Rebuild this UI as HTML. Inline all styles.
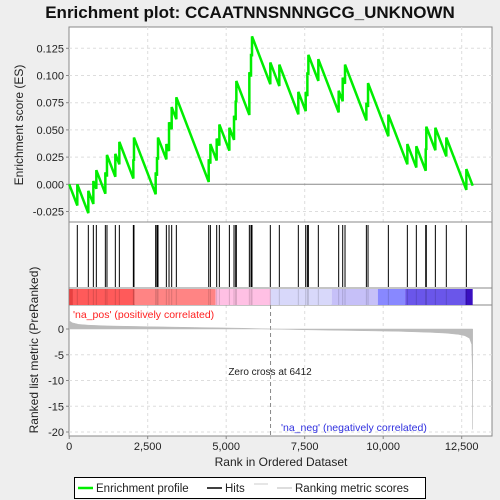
<!DOCTYPE html>
<html><head><meta charset="utf-8"><style>
body{margin:0;background:#eeeeee;font-family:"Liberation Sans",sans-serif;}
svg{display:block}
</style></head><body>
<svg id="c" width="500" height="500" viewBox="0 0 500 500" xmlns="http://www.w3.org/2000/svg">
<text x="250" y="18" text-anchor="middle" font-size="17" font-weight="bold" fill="#111">Enrichment plot: CCAATNNSNNNGCG_UNKNOWN</text>
<rect x="69" y="27" width="423" height="409" fill="#fff" stroke="#888"/>
<g id="grid"></g>
<g id="es"></g>
<g id="hits"></g>
<g id="bar"></g>
<g id="metric"></g>
<g id="axes" font-size="11" fill="#222"></g>
<text x="73" y="318" font-size="10.5" fill="#ff2020">'na_pos' (positively correlated)</text>
<text x="281" y="431" font-size="10.5" fill="#3030e0">'na_neg' (negatively correlated)</text>
<text x="270" y="375" font-size="10" text-anchor="middle" fill="#222">Zero cross at 6412</text>
<text x="281" y="466" font-size="12" text-anchor="middle" fill="#222">Rank in Ordered Dataset</text>
<text transform="translate(23,125) rotate(-90)" font-size="12" text-anchor="middle" fill="#222">Enrichment score (ES)</text>
<text transform="translate(38,350) rotate(-90)" font-size="12" text-anchor="middle" fill="#222">Ranked list metric (PreRanked)</text>
<g>
<rect x="74.5" y="477.5" width="351" height="21" fill="#fff" stroke="#000"/>
<line x1="78" y1="488" x2="93" y2="488" stroke="#00ee00" stroke-width="2.5"/>
<text x="96" y="492" font-size="11.5" fill="#222">Enrichment profile</text>
<line x1="207" y1="488" x2="222" y2="488" stroke="#000" stroke-width="1.5"/>
<text x="225" y="492" font-size="11.5" fill="#222">Hits</text>
<line x1="254" y1="484" x2="268" y2="484" stroke="#ccc"/>
<line x1="277" y1="488" x2="292" y2="488" stroke="#bbb"/>
<text x="295" y="492" font-size="11.5" fill="#222">Ranking metric scores</text>
</g>
</svg>
<script>
const hitRanks=[258,609,769,864,1151,1203,1469,1597,2043,2063,2754,2796,2828,3094,3179,3264,3412,4443,4496,4697,4782,5101,5249,5302,5323,5737,5790,5822,6405,6692,7297,7532,7585,7617,7934,8582,8710,8784,9464,9517,10164,10769,11055,11354,11373,11661,12010,12648];
const esAfterHit=[0.000,-0.006,0.003,0.013,0.011,0.027,0.028,0.039,0.023,0.043,0.011,0.025,0.043,0.037,0.057,0.071,0.080,0.023,0.037,0.042,0.055,0.052,0.063,0.077,0.095,0.103,0.120,0.136,0.112,0.110,0.085,0.085,0.103,0.119,0.115,0.086,0.098,0.110,0.075,0.093,0.064,0.037,0.035,0.033,0.053,0.052,0.043,0.014];
const missSlope=0.0000755;
const totalRanks=12850;
const esTicks=[-0.025,0,0.025,0.05,0.075,0.1,0.125];
const esTickLabels=["-0.025","0.000","0.025","0.050","0.075","0.100","0.125"];
const rankTicks=[0,2500,5000,7500,10000,12500];
const rankTickLabels=["0","2,500","5,000","7,500","10,000","12,500"];
const metricTicks=[0,-5,-10,-15,-20];
const metricRanks=[0,100,300,600,1200,2500,4000,5500,6412,7500,9000,10500,11500,12000,12400,12600,12750,12820,12840,12850];
const metricValues=[1.6,1.2,0.9,0.75,0.6,0.45,0.3,0.15,0,-0.15,-0.3,-0.45,-0.65,-0.8,-1.05,-1.3,-1.8,-3,-8,-19.5];
const barRanks=[0,120,2090,4660,6410,8360,9830,10700,12620,12850];
const barColors=["#e84040","#ff5a5a","#ff8484","#ffc0e4","#d8d8fa","#c6c0f8","#8888ff","#6a56ea","#3a10c0"];

const NS="http://www.w3.org/2000/svg";
const X=r=>69.2+r*(78.5/2500);
const Y=v=>184.3-v*(27.2/0.025);
const M=v=>329-v*(103/20);
function mk(p,t,a){const e=document.createElementNS(NS,t);for(const k in a)e.setAttribute(k,a[k]);document.getElementById(p).appendChild(e);return e;}

// grid
rankTicks.forEach(r=>{if(r===0)return;
 let g=mk('grid','line',{x1:X(r),x2:X(r),y1:27,y2:222,stroke:'#ddd','stroke-dasharray':'3,3'});
 
 let g2=mk('grid','line',{x1:X(r),x2:X(r),y1:305,y2:436,stroke:'#ddd','stroke-dasharray':'3,3'});
 });
esTicks.forEach(v=>{let g=mk('grid','line',{x1:69,x2:492,y1:Y(v),y2:Y(v),stroke:v===0?'#888':'#ddd','stroke-dasharray':v===0?'':'3,3'});
 });
metricTicks.forEach(v=>{if(v===0)return;let g=mk('grid','line',{x1:69,x2:492,y1:M(v),y2:M(v),stroke:'#ddd','stroke-dasharray':'3,3'});
 });
let zc=mk('grid','line',{x1:X(6412),x2:X(6412),y1:305,y2:436,stroke:'#888','stroke-dasharray':'4,3'});

// panel separators
[222,288,305].forEach(y=>{let l=mk('grid','line',{x1:69,x2:492,y1:y,y2:y,stroke:'#888'});
 });

// ES path
let d=`M${X(0)},${Y(0)}`;let prevR=0,prevV=0;
hitRanks.forEach((r,i)=>{const low=prevV-missSlope*(r-prevR);d+=` L${X(r)},${Y(low)} L${X(r)},${Y(esAfterHit[i])}`;prevR=r;prevV=esAfterHit[i];});
d+=` L${X(totalRanks)},${Y(prevV-missSlope*(totalRanks-prevR))}`;
let es=mk('es','path',{d:d,fill:'none',stroke:'#00ee00','stroke-width':2.5});


// hits
hitRanks.forEach(r=>{let h=mk('hits','line',{x1:X(r),x2:X(r),y1:225,y2:287,stroke:'#000','stroke-width':1});
 });

// color bar
barColors.forEach((c,i)=>{let b=mk('bar','rect',{x:X(barRanks[i]),y:289,width:X(barRanks[i+1])-X(barRanks[i]),height:16,fill:c});
 });
hitRanks.forEach(r=>{let h=mk('bar','line',{x1:X(r),x2:X(r),y1:289,y2:305,stroke:'rgba(0,0,0,0.15)'});
 });

// metric area
let md=`M${X(0)},${M(0)}`;metricRanks.forEach((r,i)=>md+=` L${X(r)},${M(metricValues[i])}`);md+=` L${X(totalRanks)},${M(0)} Z`;
let ma=mk('metric','path',{d:md,fill:'#bbb',stroke:'#bbb','stroke-width':0.5});


// axes
esTicks.forEach((v,i)=>{let t=mk('axes','text',{x:64,y:Y(v)+4,'text-anchor':'end'});t.textContent=esTickLabels[i];
 
 mk('axes','line',{x1:66,x2:69,y1:Y(v),y2:Y(v),stroke:'#888'});});
metricTicks.forEach(v=>{let t=mk('axes','text',{x:64,y:M(v)+4,'text-anchor':'end'});t.textContent=String(v);
 
 mk('axes','line',{x1:66,x2:69,y1:M(v),y2:M(v),stroke:'#888'});});
rankTicks.forEach((r,i)=>{let t=mk('axes','text',{x:X(r),y:450,'text-anchor':'middle'});t.textContent=rankTickLabels[i];
 
 mk('axes','line',{x1:X(r),x2:X(r),y1:436,y2:439,stroke:'#888'});});
</script>
</body></html>
